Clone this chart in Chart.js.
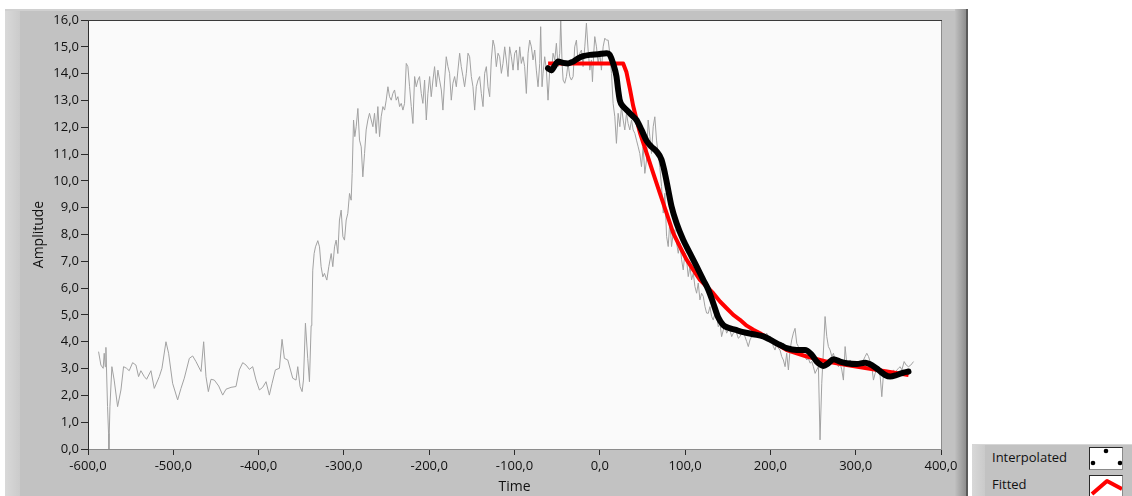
<!DOCTYPE html>
<html>
<head>
<meta charset="utf-8">
<script src="https://cdn.jsdelivr.net/npm/chart.js@4.4.1/dist/chart.umd.min.js"></script>
<style>
html,body{margin:0;padding:0;background:#fff;}
#wrap{position:relative;width:1132px;height:496px;overflow:hidden;}
#c{position:absolute;left:0;top:0;}
#legend{position:absolute;left:972px;top:444px;width:160px;height:52px;background:#c2c2c2;
  border-top:1px solid #d6d6d6;box-sizing:border-box;font:13px "Open Sans","Noto Sans",sans-serif;color:#111;}
#legend .strip{position:absolute;left:0;top:0;width:13px;height:100%;background:linear-gradient(90deg,#d8d8d8,#cacaca);}
#legend .item{position:absolute;left:20px;height:22px;line-height:22px;white-space:nowrap;}
#legend canvas{position:absolute;left:117px;background:#fff;border-top:1px solid #2a2a2a;border-left:1px solid #2a2a2a;border-right:1px solid #8a8a8a;border-bottom:1px solid #8a8a8a;}
</style>
</head>
<body>
<div id="wrap">
  <canvas id="c" width="1132" height="496"></canvas>
  <div id="legend"><div class="strip"></div></div>
</div>
<script>
// ---------- data ----------
const xTicks = [-600,-500,-400,-300,-200,-100,0,100,200,300,400];
const yTicks = [0,1,2,3,4,5,6,7,8,9,10,11,12,13,14,15,16];
const seriesLabels = ['Interpolated','Fitted','Raw'];

const rawTime = [
-587.6,-584.9,-582.2,-581.0,-579.8,-579.0,-577.1,-575.9,-575.5,-574.3,-572.0,-569.3,-565.3,-561.4,-558.3,-554.8,-551.7,-547.7,-543.8,-540.7,
-538.0,-534.0,-531.3,-526.2,-522.3,-516.4,-513.3,-508.6,-505.5,-500.8,-494.9,-491.0,-487.1,-481.2,-477.3,-473.4,-467.5,-464.4,-461.7,-458.9,
-455.8,-451.9,-446.8,-442.1,-438.2,-432.3,-426.5,-422.6,-418.6,-414.7,-410.8,-406.9,-403.0,-399.1,-395.2,-391.3,-387.4,-384.2,-380.3,-375.6,
-372.5,-369.8,-365.8,-360.0,-356.1,-354.1,-351.4,-349.0,-347.4,-345.1,-342.4,-340.4,-338.4,
-337.6,-336.5,-334.9,-333.3,-330.6,-328.6,-326.7,-324.7,-322.8,-320.0,-317.7,-314.9,-313.0,-311.0,-309.1,-307.1,-305.2,-303.2,-301.2,-299.3,
-297.3,-295.4,-293.4,-291.5,-290.3,-288.7,-287.2,-285.6,-283.6,-281.7,-279.7,-277.8,-275.8,-273.9,-271.9,-270.0,-268.0,-266.0,-264.1,-262.1,
-260.2,-258.2,-256.3,-254.3,-252.3,-250.4,-248.4,-246.5,-244.5,-242.6,-240.6,-238.7,-236.7,-234.7,-232.8,-230.8,-228.9,-226.9,-225.0,-223.0,
-221.0,-219.1,-217.1,-215.2,-213.2,-211.3,-209.3,-207.4,-205.4,-203.4,-201.5,-199.5,-197.6,-195.6,-193.7,-191.7,-189.8,-187.8,-185.8,-183.9,
-181.9,-180.0,-178.0,-176.1,-174.1,-172.2,-170.2,-168.2,-166.3,-164.3,-162.4,-160.4,-158.5,-156.5,-154.5,-152.6,-150.6,-148.7,-146.7,-144.8,
-142.8,-140.9,-138.9,-136.9,-135.0,-133.0,-131.1,-129.1,-127.2,-125.2,-123.3,-121.3,-119.3,-117.4,-115.4,-113.5,-111.5,-109.6,-107.6,-105.7,
-103.7,-101.7,-99.8,-97.8,-95.9,-93.9,-92.0,-90.0,-88.1,-86.1,-84.1,-82.2,-80.2,-78.3,-76.3,-74.4,-72.4,-70.4,-69.3,-67.7,
-66.5,-64.6,-62.6,-60.7,-58.7,-56.7,-54.8,-52.8,-50.9,-48.9,-47.0,-45.8,-44.2,-43.0,-41.1,-39.1,-37.2,-35.2,-33.3,-31.3,
-29.4,-27.4,-25.4,-23.5,-21.5,-19.6,-17.6,-15.7,-13.7,-11.7,-9.8,-8.6,-7.1,-5.9,-3.9,-2.0,0.0,1.9,3.9,5.9,
7.8,9.8,11.7,13.7,15.6,17.6,
19.5,21.5,23.5,25.4,27.4,29.3,31.3,33.2,35.2,37.2,39.1,41.1,43.0,45.0,46.9,48.9,50.8,52.8,54.8,56.7,58.7,60.6,62.6,64.5,66.5,68.4,70.4,
72.4,74.4,76.3,78.3,80.2,82.2,84.1,86.1,88.0,90.0,92.0,93.9,95.9,97.8,99.8,101.7,103.7,105.7,107.6,109.6,111.5,113.5,115.4,117.4,119.3,121.3,123.3,125.2,
127.2,129.1,131.1,133.0,135.0,137.0,138.9,140.9,142.8,144.8,146.7,148.7,150.7,152.6,154.6,156.5,158.5,160.4,162.4,164.3,
166.3,168.3,170.2,172.2,174.1,176.1,178.0,180.0,181.9,183.9,185.9,187.8,189.8,191.7,193.7,195.6,197.6,199.6,201.5,203.5,
205.4,207.4,209.3,211.3,213.2,215.2,217.2,219.1,221.1,223.0,225.0,226.9,228.9,230.9,232.8,234.8,236.7,238.7,240.6,242.6,
244.5,246.5,248.5,250.4,252.4,254.3,256.3,258.2,260.2,262.2,264.1,266.1,268.0,270.0,272.0,273.9,275.8,277.8,279.8,281.7,
283.7,285.6,287.6,289.5,291.5,293.4,295.4,297.4,299.3,301.3,303.2,305.2,307.1,309.1,311.1,313.0,315.0,316.9,318.9,320.8,
322.8,324.8,326.7,328.7,330.6,332.6,334.5,336.5,338.4,340.4,342.3,344.3,346.3,348.2,350.2,352.1,354.1,356.8,359.2,361.9,
364.6,367.8
];
const rawAmp = [
3.63,3.13,3.01,3.57,3.07,3.79,1.58,0.58,0.0,1.58,3.07,2.57,1.58,2.20,3.07,3.01,2.92,3.22,3.13,2.70,
2.92,2.70,2.60,2.92,2.26,2.70,3.01,4.00,3.57,2.45,1.83,2.26,2.64,3.38,3.47,3.26,2.89,4.00,2.70,2.14,
2.60,2.57,2.35,2.01,2.23,2.30,2.33,2.95,3.22,3.13,2.97,3.07,2.57,2.20,2.30,2.51,2.01,2.45,2.95,3.01,
4.09,3.38,3.32,2.64,2.57,3.07,2.33,2.14,2.57,4.69,3.38,2.51,4.60,
4.81,6.67,7.29,7.54,7.77,7.54,6.80,6.42,6.55,6.30,6.80,7.29,6.80,7.54,7.79,7.29,8.54,8.91,7.92,7.79,
8.54,8.79,9.53,9.28,10.28,12.27,11.65,12.02,12.70,11.52,11.27,10.15,11.02,11.90,12.27,12.52,12.27,12.02,12.52,11.77,
12.77,11.65,12.39,12.77,12.64,13.01,13.51,13.14,13.01,13.26,13.39,13.01,13.14,12.77,12.89,12.64,12.89,14.38,14.26,13.51,
12.77,12.14,13.89,13.51,13.76,13.89,13.26,12.89,13.76,12.27,13.26,13.89,13.14,13.76,14.26,13.51,14.13,13.76,13.39,12.64,
13.76,14.63,14.26,14.01,13.01,13.64,13.89,13.51,14.13,14.76,14.26,13.89,13.51,14.01,14.76,14.63,13.89,13.51,12.64,13.51,
13.76,13.89,13.26,12.77,14.01,14.26,13.51,13.14,14.51,15.25,15.00,14.26,14.76,14.63,14.01,14.38,15.00,14.51,13.89,15.00,
14.63,14.13,14.76,14.88,14.13,15.00,14.38,14.63,14.26,13.26,14.76,15.25,15.00,14.51,14.88,14.13,13.51,14.38,15.75,13.51,
14.01,14.63,14.13,13.01,14.13,14.01,14.76,14.51,15.13,14.26,14.76,16.00,14.38,13.76,13.64,13.89,14.38,13.89,13.76,13.89,
15.00,15.25,14.38,14.76,14.88,14.26,15.00,15.88,14.88,14.13,14.51,13.70,14.76,15.38,15.00,14.38,14.76,14.13,15.00,15.32,
15.25,15.25,14.76,14.01,12.89,12.39,
11.40,12.52,12.02,12.77,12.27,11.90,12.52,12.14,11.90,12.27,11.90,11.77,11.52,11.27,11.02,10.53,11.27,10.28,10.78,12.27,11.65,11.02,12.02,12.39,11.52,11.02,10.50,
9.79,8.80,9.54,7.93,7.55,8.55,7.55,8.05,8.18,7.68,7.30,7.68,7.06,6.68,7.30,7.06,6.43,6.81,6.31,6.56,6.06,5.81,6.19,5.56,5.81,5.69,5.31,5.07,
5.06,5.31,4.94,4.81,5.06,4.94,4.56,4.69,4.19,4.44,4.56,4.32,4.44,4.44,4.19,4.32,4.38,4.32,4.13,4.19,
4.32,4.38,4.19,4.01,3.82,4.07,4.19,4.19,4.32,4.32,4.38,4.38,4.19,4.32,4.25,4.32,4.19,4.13,4.07,3.82,
3.69,3.94,3.76,3.69,3.45,3.32,3.07,3.57,2.95,3.69,4.07,4.32,4.50,3.94,3.82,3.69,3.57,3.51,3.45,3.32,
3.38,3.20,3.26,3.07,2.82,2.95,3.07,0.34,2.45,3.69,4.94,4.19,3.82,3.69,3.45,3.57,3.32,3.20,3.07,3.20,
2.95,2.57,3.82,3.20,3.13,3.32,3.20,3.07,3.13,3.20,3.26,3.07,3.20,3.32,3.45,3.57,3.45,3.26,3.07,2.57,
2.82,2.95,3.07,2.70,1.95,2.82,2.70,2.95,2.76,2.70,2.82,2.95,2.82,2.95,3.01,3.07,2.95,3.26,3.13,3.07,
3.13,3.26
];

const fitTime = [-60.6,27.4,31.3,35.2,39.1,43.0,47.0,54.8,62.6,70.4,78.3,86.1,93.9,101.7,109.6,117.4,125.2,133.0,140.9,148.7,156.5,164.3,172.2,180.0,187.8,203.5,219.1,242.6,266.1,289.5,313.0,336.5,361.9];
const fitAmp  = [14.38,14.38,14.05,13.45,12.80,12.30,11.80,11.04,10.29,9.54,8.80,8.05,7.55,7.06,6.68,6.31,6.06,5.81,5.50,5.25,5.00,4.82,4.60,4.45,4.32,4.00,3.69,3.45,3.26,3.13,3.01,2.89,2.76];

const interpTime = [-60.7,-56.7,-52.8,-48.9,-43.0,-37.2,-31.3,-25.4,-19.6,-11.7,-2.0,7.8,11.7,15.6,19.5,21.5,23.5,27.4,31.3,37.2,43.0,48.9,54.8,60.6,66.5,72.4,76.3,80.2,84.1,90.0,97.8,105.7,113.5,121.3,127.2,133.0,138.9,144.8,150.7,158.4,168.2,180.0,191.7,199.6,207.4,213.2,219.1,230.9,240.6,248.5,254.3,262.2,268.0,273.9,281.7,289.5,301.3,311.0,318.9,326.7,334.5,340.4,348.2,356.0,361.9];
const interpAmp  = [14.20,14.13,14.30,14.45,14.40,14.38,14.45,14.57,14.65,14.70,14.72,14.76,14.70,14.38,13.90,13.40,13.00,12.77,12.65,12.46,12.27,11.90,11.50,11.27,11.10,10.79,10.29,9.67,9.05,8.42,7.80,7.30,6.81,6.31,5.94,5.44,4.90,4.62,4.52,4.45,4.36,4.28,4.20,4.08,3.94,3.85,3.76,3.69,3.69,3.51,3.26,3.10,3.20,3.35,3.26,3.20,3.17,3.22,3.13,2.95,2.76,2.70,2.76,2.85,2.89];

// ---------- helpers ----------
function pts(xs, ys){ const n=Math.min(xs.length, ys.length); const a=[]; for(let i=0;i<n;i++) a.push({x:xs[i], y:ys[i]}); return a; }
const fmt = v => (Math.round(v*10)/10).toFixed(1).replace('.', ',');
const FONT = '"Open Sans","Noto Sans",sans-serif';
Chart.defaults.font.family = FONT;
Chart.defaults.color = '#111111';

const panelPlugin = {
  id: 'panel',
  beforeDraw(chart){
    const ctx = chart.ctx, a = chart.chartArea;
    ctx.save();
    ctx.fillStyle = '#ffffff'; ctx.fillRect(0,0,1132,496);
    ctx.fillStyle = '#c2c2c2'; ctx.fillRect(5,9,963,487);
    let g = ctx.createLinearGradient(5,0,20,0);
    g.addColorStop(0,'#d9d9d9'); g.addColorStop(1,'#cbcbcb');
    ctx.fillStyle = g; ctx.fillRect(5,9,15,487);
    ctx.fillStyle = '#d0d0d0'; ctx.fillRect(5,9,963,2);
    g = ctx.createLinearGradient(955,0,966,0);
    g.addColorStop(0,'#c0c0c0'); g.addColorStop(1,'#8e8e8e');
    ctx.fillStyle = g; ctx.fillRect(955,9,11,487);
    ctx.fillStyle = '#5a5a5a'; ctx.fillRect(966,9,2,487);
    ctx.fillStyle = '#fafafa'; ctx.fillRect(a.left, a.top, a.right-a.left, a.bottom-a.top);
    ctx.restore();
  },
  afterDraw(chart){
    const ctx = chart.ctx, a = chart.chartArea;
    ctx.save();
    ctx.lineWidth = 1;
    ctx.strokeStyle = '#3a3a3a';
    ctx.beginPath(); ctx.moveTo(a.left, a.top+0.5); ctx.lineTo(a.right+1, a.top+0.5); ctx.stroke();
    ctx.strokeStyle = '#8c8c8c';
    ctx.beginPath(); ctx.moveTo(a.right+0.5, a.top+1); ctx.lineTo(a.right+0.5, a.bottom); ctx.stroke();
    ctx.restore();
  }
};

const chart = new Chart(document.getElementById('c'), {
  type: 'line',
  data: {
    datasets: [
      { label: seriesLabels[0], data: pts(interpTime, interpAmp), borderColor: '#000000', backgroundColor: '#000000',
        borderWidth: 6, pointRadius: 0, cubicInterpolationMode: 'monotone', borderCapStyle: 'round', borderJoinStyle: 'round' },
      { label: seriesLabels[1], data: pts(fitTime, fitAmp), borderColor: '#ff0000', backgroundColor: '#ff0000',
        borderWidth: 4, pointRadius: 0, tension: 0, borderJoinStyle: 'round' },
      { label: seriesLabels[2], data: pts(rawTime, rawAmp), borderColor: '#a2a2a2', backgroundColor: '#a2a2a2',
        borderWidth: 1, pointRadius: 0, tension: 0 }
    ]
  },
  options: {
    responsive: false, animation: false, devicePixelRatio: 1,
    layout: { padding: { left: 0, top: 20, right: 191, bottom: 0 } },
    plugins: { legend: { display: false }, tooltip: { enabled: false } },
    scales: {
      x: {
        type: 'linear', min: -600, max: 400,
        afterBuildTicks: s => { s.ticks = xTicks.map(v => ({ value: v })); },
        afterFit: s => { s.height = 47; },
        ticks: { callback: v => fmt(v), font: { size: 13 }, color: '#111111', padding: 3, maxRotation: 0, autoSkip: false },
        grid: { drawOnChartArea: false, drawTicks: true, tickLength: 6, color: '#2a2a2a' },
        border: { display: true, color: '#8c8c8c', width: 1 },
        title: { display: true, text: 'Time', font: { size: 14 }, color: '#111111', padding: { top: 0, bottom: 1 } }
      },
      y: {
        type: 'linear', min: 0, max: 16,
        afterBuildTicks: s => { s.ticks = yTicks.map(v => ({ value: v })); },
        afterFit: s => { s.width = 88; },
        ticks: { callback: v => fmt(v), font: { size: 13 }, color: '#111111', padding: 2, autoSkip: false },
        grid: { drawOnChartArea: false, drawTicks: true, tickLength: 7, color: '#2a2a2a' },
        border: { display: true, color: '#2e2e2e', width: 1 },
        title: { display: true, text: 'Amplitude', font: { size: 14 }, color: '#111111', padding: { top: 31, bottom: 0 } }
      }
    }
  },
  plugins: [panelPlugin]
});

// ---------- HTML legend (from chart datasets) ----------
(function(){
  const lg = document.getElementById('legend');
  const rows = [0,1];
  rows.forEach((di, r) => {
    const ds = chart.data.datasets[di];
    const item = document.createElement('div');
    item.className = 'item';
    item.style.top = (1 + r*27) + 'px';
    item.textContent = ds.label;
    lg.appendChild(item);
    const cv = document.createElement('canvas');
    cv.width = 32; cv.height = 21;
    cv.style.top = (2 + r*28) + 'px';
    lg.appendChild(cv);
    const c = cv.getContext('2d');
    if (di === 0) {
      c.fillStyle = ds.borderColor;
      [[16,3],[3,15],[30,15]].forEach(p => { c.beginPath(); c.arc(p[0],p[1],2.3,0,Math.PI*2); c.fill(); });
    } else {
      c.strokeStyle = ds.borderColor; c.lineWidth = 4; c.lineJoin = 'round';
      c.beginPath(); c.moveTo(2,18); c.lineTo(17,5); c.lineTo(32,13); c.stroke();
    }
  });
})();
</script>
</body>
</html>
